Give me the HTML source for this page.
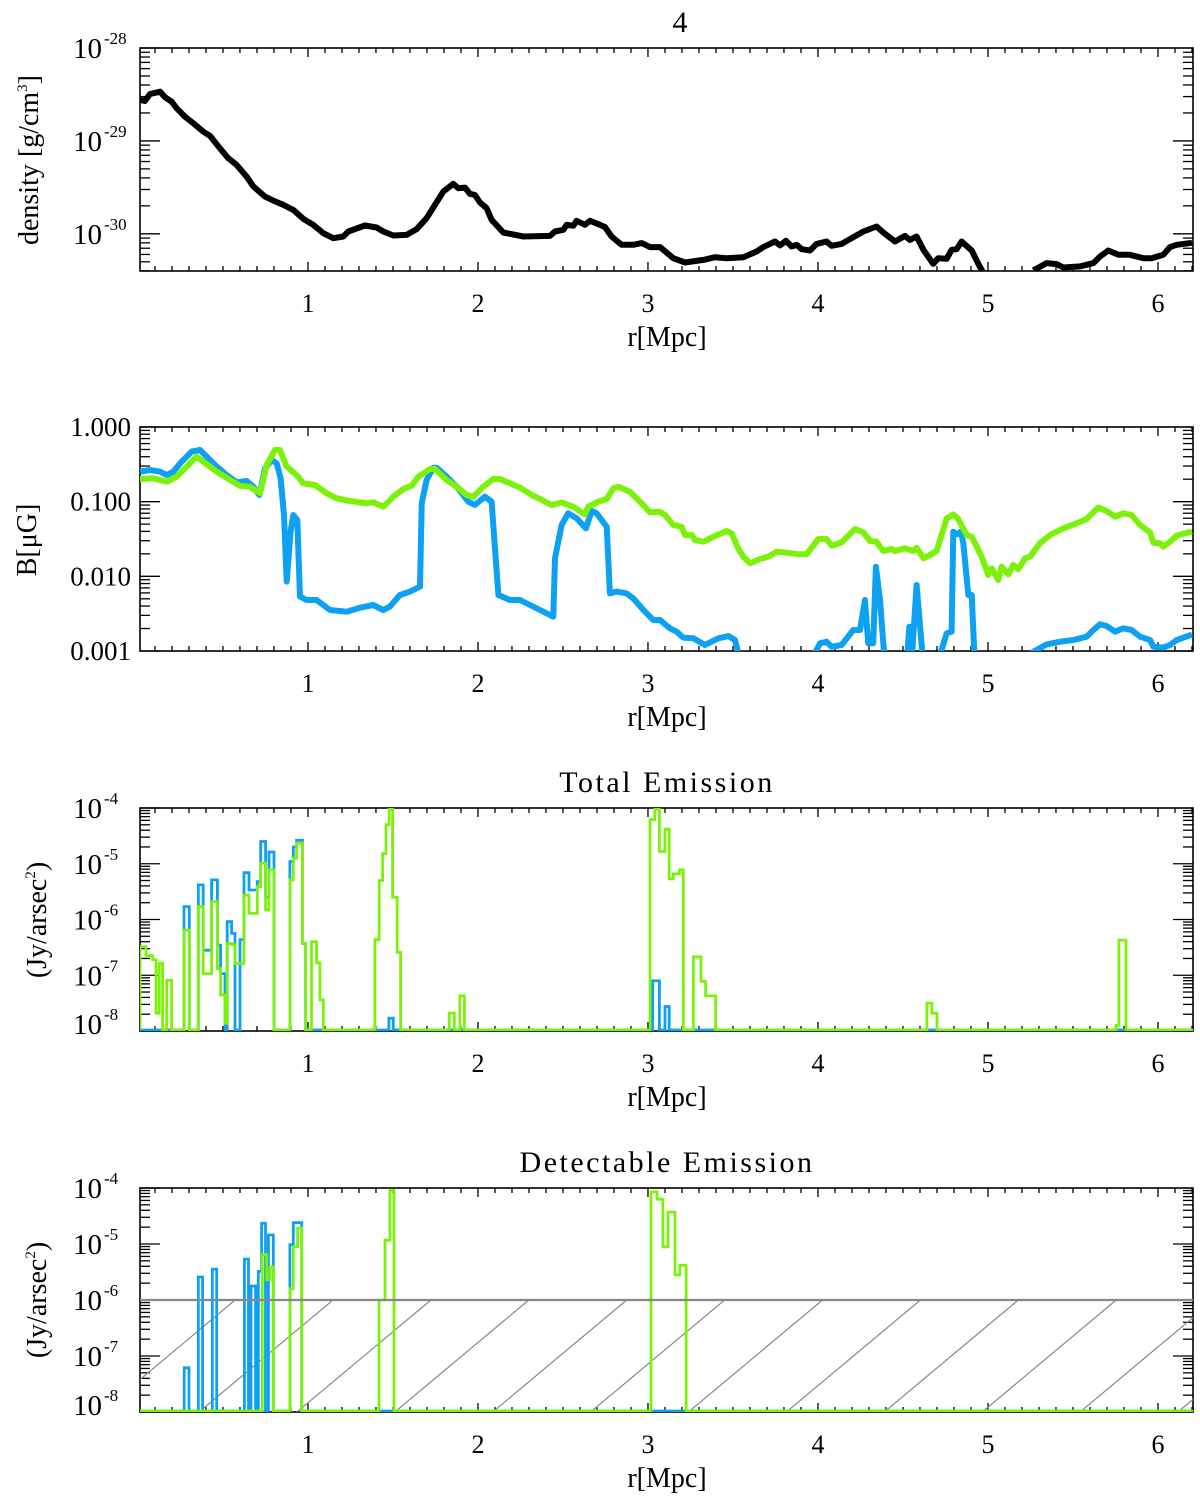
<!DOCTYPE html>
<html><head><meta charset="utf-8"><style>
html,body{margin:0;padding:0;background:#fff;}
svg{display:block;}
text{font-family:"Liberation Serif",serif;fill:#000;}
</style></head><body>
<svg id="chart" width="1200" height="1496" viewBox="0 0 1200 1496" xmlns="http://www.w3.org/2000/svg">
<text x="680" y="32" font-size="30" text-anchor="middle">4</text>
<text x="667" y="792" font-size="30" text-anchor="middle" letter-spacing="2.5">Total Emission</text>
<text x="667" y="1172" font-size="30" text-anchor="middle" letter-spacing="2.5">Detectable Emission</text>
<g id="g"></g>
</svg>
<script>
// ---- data ----
const xTicks=[1,2,3,4,5,6];
const densR=[0.012,0.041,0.071,0.13,0.159,0.198,0.228,0.276,0.326,0.384,0.424,0.482,0.531,0.580,0.639,0.679,0.747,0.796,0.855,0.914,0.973,1.031,1.090,1.149,1.208,1.237,1.335,1.404,1.443,1.502,1.580,1.639,1.698,1.747,1.796,1.855,1.884,1.924,1.953,1.982,2.012,2.051,2.080,2.149,2.267,2.424,2.453,2.502,2.522,2.561,2.580,2.629,2.659,2.718,2.747,2.786,2.845,2.914,2.963,3.012,3.071,3.149,3.218,3.326,3.394,3.463,3.561,3.639,3.678,3.747,3.777,3.812,3.845,3.874,3.904,3.953,3.992,4.051,4.080,4.139,4.208,4.267,4.345,4.384,4.453,4.512,4.541,4.580,4.620,4.678,4.708,4.757,4.786,4.816,4.845,4.904,4.943,4.982,5.1,5.267,5.345,5.404,5.443,5.541,5.620,5.659,5.708,5.767,5.835,5.914,5.963,6.031,6.071,6.110,6.2];
const densLog=[-28.559,-28.570,-28.495,-28.470,-28.530,-28.577,-28.649,-28.738,-28.810,-28.900,-28.946,-29.079,-29.186,-29.258,-29.384,-29.491,-29.599,-29.642,-29.688,-29.742,-29.839,-29.903,-29.993,-30.047,-30.029,-29.975,-29.910,-29.932,-29.975,-30.018,-30.011,-29.950,-29.832,-29.688,-29.545,-29.462,-29.509,-29.502,-29.570,-29.581,-29.663,-29.724,-29.849,-29.986,-30.029,-30.022,-29.975,-29.957,-29.903,-29.914,-29.860,-29.903,-29.860,-29.903,-29.928,-30.029,-30.118,-30.118,-30.100,-30.143,-30.143,-30.262,-30.308,-30.280,-30.251,-30.262,-30.251,-30.190,-30.143,-30.082,-30.125,-30.075,-30.136,-30.118,-30.165,-30.179,-30.108,-30.082,-30.129,-30.108,-30.036,-29.975,-29.921,-29.986,-30.082,-30.022,-30.065,-30.029,-30.172,-30.323,-30.262,-30.269,-30.172,-30.165,-30.082,-30.179,-30.323,-30.45,null,-30.394,-30.315,-30.326,-30.362,-30.351,-30.315,-30.244,-30.179,-30.226,-30.226,-30.262,-30.262,-30.226,-30.143,-30.118,-30.097];
const bGreenR=[0.012,0.090,0.169,0.228,0.345,0.463,0.600,0.659,0.718,0.757,0.806,0.835,0.875,0.933,0.973,1.041,1.110,1.169,1.247,1.345,1.384,1.443,1.502,1.561,1.610,1.649,1.718,1.747,1.816,1.875,1.933,1.973,2.031,2.090,2.129,2.188,2.247,2.316,2.365,2.433,2.492,2.561,2.629,2.649,2.708,2.757,2.796,2.826,2.894,2.953,3.012,3.071,3.100,3.149,3.198,3.218,3.257,3.276,3.326,3.394,3.463,3.492,3.531,3.561,3.600,3.659,3.708,3.757,3.816,3.894,3.933,4.002,4.051,4.080,4.139,4.218,4.267,4.306,4.345,4.384,4.433,4.453,4.512,4.561,4.580,4.620,4.659,4.698,4.757,4.796,4.825,4.874,4.904,4.963,5.002,5.022,5.061,5.080,5.120,5.149,5.178,5.218,5.247,5.306,5.365,5.443,5.522,5.580,5.620,5.649,5.698,5.747,5.796,5.845,5.894,5.953,5.973,6.012,6.031,6.071,6.110,6.2];
const bGreenLog=[-0.696,-0.687,-0.732,-0.665,-0.397,-0.598,-0.790,-0.799,-0.888,-0.509,-0.308,-0.308,-0.531,-0.643,-0.754,-0.777,-0.888,-0.955,-0.991,-1.022,-1.009,-1.067,-0.933,-0.830,-0.786,-0.665,-0.562,-0.562,-0.710,-0.799,-0.911,-0.933,-0.799,-0.696,-0.696,-0.754,-0.812,-0.911,-0.964,-1.045,-1.013,-1.067,-1.170,-1.067,-1.000,-0.964,-0.821,-0.799,-0.866,-1.000,-1.143,-1.134,-1.179,-1.312,-1.335,-1.446,-1.446,-1.513,-1.536,-1.460,-1.393,-1.424,-1.625,-1.737,-1.826,-1.768,-1.737,-1.670,-1.683,-1.705,-1.705,-1.500,-1.500,-1.589,-1.545,-1.366,-1.411,-1.527,-1.536,-1.661,-1.634,-1.661,-1.625,-1.661,-1.616,-1.759,-1.714,-1.661,-1.223,-1.170,-1.232,-1.446,-1.469,-1.737,-1.982,-1.893,-2.049,-1.871,-1.973,-1.848,-1.906,-1.759,-1.737,-1.558,-1.446,-1.357,-1.290,-1.232,-1.143,-1.080,-1.125,-1.201,-1.156,-1.179,-1.312,-1.411,-1.549,-1.558,-1.603,-1.536,-1.455,-1.40];
const bBlueR=[0.012,0.071,0.13,0.169,0.208,0.257,0.316,0.365,0.463,0.522,0.580,0.639,0.679,0.714,0.747,0.786,0.816,0.839,0.859,0.875,0.898,0.914,0.937,0.953,0.992,1.051,1.129,1.227,1.306,1.384,1.443,1.482,1.541,1.600,1.659,1.669,1.698,1.737,1.757,1.816,1.875,1.943,1.982,2.041,2.080,2.120,2.188,2.247,2.306,2.365,2.443,2.453,2.492,2.531,2.580,2.635,2.669,2.698,2.727,2.757,2.776,2.816,2.874,2.914,2.973,3.031,3.071,3.129,3.169,3.208,3.267,3.335,3.414,3.473,3.512,3.551,3.75,3.943,4.012,4.051,4.080,4.139,4.208,4.247,4.276,4.296,4.325,4.341,4.365,4.394,4.46,4.522,4.537,4.555,4.580,4.620,4.66,4.698,4.757,4.786,4.796,4.816,4.841,4.855,4.884,4.904,4.923,5.1,5.267,5.345,5.424,5.502,5.580,5.620,5.659,5.698,5.747,5.796,5.845,5.894,5.953,5.973,6.031,6.071,6.110,6.2];
const bBlueLog=[-0.598,-0.576,-0.598,-0.643,-0.598,-0.464,-0.330,-0.308,-0.531,-0.643,-0.741,-0.723,-0.799,-0.911,-0.554,-0.442,-0.487,-0.687,-1.179,-2.071,-1.402,-1.179,-1.246,-2.272,-2.317,-2.317,-2.451,-2.473,-2.420,-2.384,-2.451,-2.406,-2.250,-2.205,-2.138,-1.022,-0.710,-0.545,-0.545,-0.665,-0.799,-1.000,-1.045,-0.933,-1.000,-2.250,-2.317,-2.317,-2.384,-2.451,-2.540,-1.759,-1.312,-1.156,-1.223,-1.357,-1.125,-1.156,-1.246,-1.335,-2.228,-2.205,-2.228,-2.295,-2.451,-2.585,-2.585,-2.696,-2.741,-2.821,-2.830,-2.920,-2.830,-2.799,-2.853,-3.2,-3.4,-3.2,-2.897,-2.875,-2.942,-2.920,-2.719,-2.719,-2.317,-2.897,-2.897,-1.871,-2.317,-3.2,-3.4,-3.2,-2.674,-3.0,-2.116,-3.2,-3.4,-3.2,-2.763,-2.741,-1.402,-1.437,-1.402,-1.558,-2.250,-2.250,-3.2,-3.4,-3.009,-2.911,-2.875,-2.853,-2.808,-2.719,-2.643,-2.665,-2.741,-2.696,-2.719,-2.808,-2.853,-2.942,-2.955,-2.920,-2.853,-2.78];
// total emission: bin start r and log10 value (null = no emission)
const totGreenR=[0.012,0.047,0.086,0.106,0.125,0.145,0.169,0.198,0.271,0.302,0.355,0.384,0.433,0.467,0.486,0.512,0.525,0.551,0.571,0.6,0.624,0.653,0.702,0.722,0.751,0.771,0.8,0.894,0.914,0.933,0.967,0.986,1.021,1.051,1.07,1.09,1.394,1.419,1.439,1.459,1.478,1.498,1.525,1.545,1.831,1.861,1.894,1.920,3.012,3.041,3.067,3.1,3.125,3.149,3.184,3.208,3.267,3.312,3.339,3.361,3.398,4.641,4.67,4.70,5.753,5.77,5.812];
const totGreenLog=[-6.49,-6.65,-6.72,-7.68,-6.79,null,-7.09,null,-6.19,null,-5.77,-6.97,-5.68,-6.88,-7.35,-7.86,-6.43,-6.45,-6.79,-6.79,-5.56,-5.89,-5.41,-4.99,-5.83,-5.11,null,-5.29,-4.90,-4.63,-6.43,null,-6.40,-6.78,-7.44,null,-6.36,-5.30,-4.82,-4.30,-4.02,-5.60,-6.59,null,-7.68,null,-7.37,null,-4.21,-4.02,-4.78,-4.38,-5.27,-5.18,-5.11,null,-6.67,-7.11,-7.37,-7.37,null,-7.5,-7.68,null,-7.9,-6.37,null];
const totBlueR=[0.271,0.302,0.355,0.384,0.433,0.467,0.486,0.512,0.525,0.551,0.571,0.6,0.624,0.653,0.702,0.722,0.751,0.771,0.8,0.894,0.914,0.933,0.967,0.986,1.476,1.502,3.027,3.067,3.1,3.125];
const totBlueLog=[-5.77,null,-5.38,-6.55,-5.29,-6.46,-6.97,null,-6.04,-6.25,null,-6.36,-5.16,-5.47,-5.32,-4.60,-5.6,-4.79,null,-4.96,-4.7,-4.58,-6.43,null,-7.77,null,-7.10,null,-7.56,null];
const detBlueR=[0.272,0.30,0.355,0.38,0.437,0.463,0.626,0.65,0.665,0.692,0.708,0.727,0.75,0.767,0.796,0.894,0.914,0.963];
const detBlueLog=[-7.21,null,-5.59,null,-5.45,null,-5.27,null,-5.75,null,-5.49,-4.63,null,-4.84,null,-5.01,-4.62,null];
const detGreenR=[0.731,0.757,0.776,0.796,0.894,0.914,0.939,0.963,1.418,1.453,1.482,1.506,3.018,3.053,3.088,3.118,3.159,3.188,3.224];
const detGreenLog=[-5.19,-5.64,-5.41,null,-5.8,-5.05,-4.72,null,-6.0,-4.93,-4.04,null,-4.07,-4.2,-5.05,-4.43,-5.55,-5.38,null];
const threshLog=-6;

// ---- drawing ----
const NS="http://www.w3.org/2000/svg";
const G=document.getElementById('g');
const XMIN=0.012,XMAX=6.206,L=140,R=1193;
function X(r){return L+(r-XMIN)/(XMAX-XMIN)*(R-L);}
function mk(tag,attrs,parent){const e=document.createElementNS(NS,tag);for(const k in attrs)e.setAttribute(k,attrs[k]);(parent||G).appendChild(e);return e;}
const BLUE="#0ea0f2",GREEN="#7cf20a";
const panels=[
 {id:'density',top:48,bot:271,lo:-30.4,hi:-28},
 {id:'bfield',top:427,bot:651,lo:-3,hi:0},
 {id:'total',top:808,bot:1031,lo:-8,hi:-4},
 {id:'detect',top:1188,bot:1412,lo:-8,hi:-4}];
function Yf(p){return v=>p.bot-(v-p.lo)/(p.hi-p.lo)*(p.bot-p.top);}
panels.forEach((p,i)=>{
 const cp=mk('clipPath',{id:'clip'+i});
 mk('rect',{x:L,y:p.top,width:R-L,height:p.bot-p.top},cp);
});
function axes(p,i,ylabels){
 const Y=Yf(p);
 const ax=mk('g',{});
 
 
 for(let k=1;k<=62;k++){const r=k/10;if(r<XMIN||r>XMAX)continue;const x=X(r);const major=(k%10===0);const len=major?9:5;
  mk('line',{x1:x,x2:x,y1:p.bot,y2:p.bot-len,stroke:'#000','stroke-width':1.3},ax);
  mk('line',{x1:x,x2:x,y1:p.top,y2:p.top+len,stroke:'#000','stroke-width':1.3},ax);}
 xTicks.forEach(t=>{const tx=mk('text',{x:X(t),y:p.bot+41,'font-size':26,'text-anchor':'middle'},ax);tx.textContent=t;
  });
 const xt=mk('text',{x:667,y:p.bot+75,'font-size':28,'text-anchor':'middle'},ax);xt.textContent='r[Mpc]';
 
 for(let d=Math.floor(p.lo);d<p.hi;d++){for(let m=1;m<=9;m++){const v=d+Math.log10(m);if(v<p.lo-1e-6||v>p.hi+1e-6)continue;const y=Y(v);const len=m===1?20:10;
  mk('line',{x1:L,x2:L+len,y1:y,y2:y,stroke:'#000','stroke-width':1.3},ax);
  mk('line',{x1:R,x2:R-len,y1:y,y2:y,stroke:'#000','stroke-width':1.3},ax);}}
 {const y=Y(p.hi);mk('line',{x1:L,x2:L+20,y1:y,y2:y,stroke:'#000','stroke-width':1.3},ax);}
 ylabels(Y,ax);
 mk('rect',{x:L,y:p.top,width:R-L,height:p.bot-p.top,fill:'none',stroke:'#000','stroke-width':1.6},ax);
}
function powLabel(ax,y,exp,xr){
 const t=mk('text',{x:xr,y:y+10,'font-size':29,'text-anchor':'end'},ax);
 
 t.textContent='10';
 const s=mk('text',{x:xr+2,y:y-4,'font-size':17,'text-anchor':'start','font-family':'Liberation Sans, sans-serif'},ax);
 
 s.textContent=exp;
}
function ytitle(ax,x,y){const t=mk('text',{x:x,y:y,'font-size':28,'text-anchor':'middle',transform:'rotate(-90 '+x+' '+y+')'},ax);
 return t;}
function line(p,i,rs,vs,color,w,name){
 const Y=Yf(p);let d='',pen=false;
 rs.forEach((r,k)=>{const v=vs[k];if(v===null){pen=false;return;}d+=(pen?'L':'M')+X(r).toFixed(1)+','+Y(v).toFixed(1);pen=true;});
 const e=mk('path',{d:d,fill:'none',stroke:color,'stroke-width':w,'stroke-linejoin':'round','clip-path':'url(#clip'+i+')'});
 
}
function step(p,i,rs,vs,color,name){
 const Y=Yf(p);const fl=p.bot-1;let d='M'+L+','+fl;let prevEnd=null;
 rs.forEach((r,k)=>{const v=vs[k];const y=v===null?fl:Y(v);const x1=X(r);const x2=k+1<rs.length?X(rs[k+1]):x1+3.4;
  if(prevEnd!==null&&Math.abs(prevEnd-x1)>0.5){d+='L'+prevEnd.toFixed(1)+','+fl+'L'+x1.toFixed(1)+','+fl;}
  else if(prevEnd===null){d+='L'+x1.toFixed(1)+','+fl;}
  d+='L'+x1.toFixed(1)+','+y.toFixed(1)+'L'+x2.toFixed(1)+','+y.toFixed(1);prevEnd=x2;});
 d+='L'+prevEnd.toFixed(1)+','+fl+'L'+R+','+fl;
 const e=mk('path',{d:d,fill:'none',stroke:color,'stroke-width':2.8,'clip-path':'url(#clip'+i+')'});
 
}
// panel 1
axes(panels[0],0,(Y,ax)=>{[-28,-29,-30].forEach(e=>powLabel(ax,Y(e),String(e),102));
 const t=ytitle(ax,38,160);t.textContent='density [g/cm';const s=mk('tspan',{'font-size':15,dy:-11},t);s.textContent='3';const s2=mk('tspan',{dy:11},t);s2.textContent=']';});
line(panels[0],0,densR,densLog,'#000',6,'density-line');
// panel 2
axes(panels[1],1,(Y,ax)=>{[[0,'1.000'],[-1,'0.100'],[-2,'0.010'],[-3,'0.001']].forEach(([v,s])=>{const t=mk('text',{x:131,y:Y(v)+9,'font-size':27,'text-anchor':'end'},ax);t.textContent=s;
 });
 const t=ytitle(ax,36,540);t.textContent='B[μG]';});
line(panels[1],1,bBlueR,bBlueLog,BLUE,6,'b-field-blue-line');
line(panels[1],1,bGreenR,bGreenLog,GREEN,6,'b-field-green-line');
// panel 3
axes(panels[2],2,(Y,ax)=>{[-4,-5,-6,-7,-8].forEach(e=>powLabel(ax,Y(e)-(e===-8?7:0),String(e),102));
 const t=ytitle(ax,46,920);t.textContent='(Jy/arsec';const s=mk('tspan',{'font-size':15,dy:-11},t);s.textContent='2';const s2=mk('tspan',{dy:11},t);s2.textContent=')';});
step(panels[2],2,totBlueR,totBlueLog,BLUE,'total-emission-blue-hist');
step(panels[2],2,totGreenR,totGreenLog,GREEN,'total-emission-green-hist');
// panel 4
const P4=panels[3],Y4=Yf(P4);
axes(P4,3,(Y,ax)=>{[-4,-5,-6,-7,-8].forEach(e=>powLabel(ax,Y(e)-(e===-8?7:0),String(e),102));
 const t=ytitle(ax,46,1300);t.textContent='(Jy/arsec';const s=mk('tspan',{'font-size':15,dy:-11},t);s.textContent='2';const s2=mk('tspan',{dy:11},t);s2.textContent=')';});
const ch=mk('clipPath',{id:'clipH'});
mk('rect',{x:L,y:Y4(threshLog),width:R-L,height:P4.bot-Y4(threshLog)},ch);
const hatch=mk('g',{'clip-path':'url(#clipH)'});

const hTop=Y4(threshLog),hBot=P4.bot,slope=134/112;
for(let k=-3;k<12;k++){const xb=199+k*97.9;mk('line',{x1:xb,y1:hBot,x2:xb+(hBot-hTop)*slope,y2:hTop,stroke:'#888','stroke-width':1.2},hatch);}
step(P4,3,detBlueR,detBlueLog,BLUE,'detectable-blue-hist');
step(P4,3,detGreenR,detGreenLog,GREEN,'detectable-green-hist');
const th=mk('line',{x1:L,x2:R,y1:Y4(threshLog),y2:Y4(threshLog),stroke:'#888','stroke-width':2.2});

</script>
</body></html>
